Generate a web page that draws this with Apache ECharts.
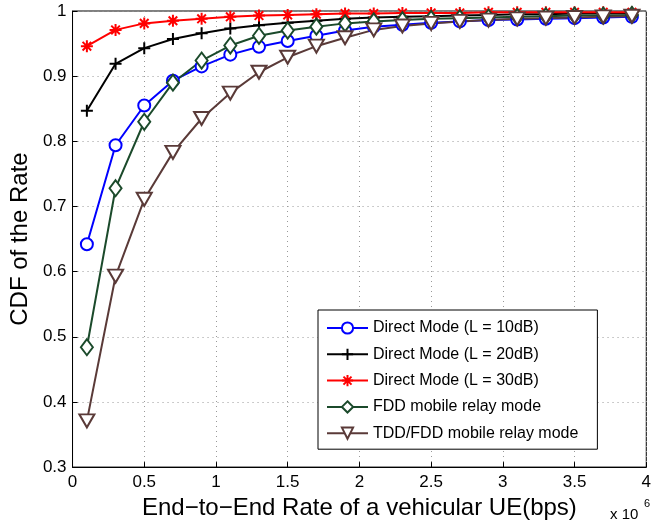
<!DOCTYPE html>
<html>
<head>
<meta charset="utf-8">
<script src="https://cdn.jsdelivr.net/npm/echarts@6/dist/echarts.min.js"></script>
<style>html,body{margin:0;padding:0;background:#fff;}#c{width:654px;height:525px;}</style>
</head>
<body>
<div id="c"></div>
<script>
const rates = [0.1e6,0.3e6,0.5e6,0.7e6,0.9e6,1.1e6,1.3e6,1.5e6,1.7e6,1.9e6,2.1e6,2.3e6,2.5e6,2.7e6,2.9e6,3.1e6,3.3e6,3.5e6,3.7e6,3.9e6];
const direct10 = [0.642,0.794,0.855,0.893,0.915,0.933,0.945,0.954,0.962,0.970,0.976,0.979,0.982,0.984,0.986,0.987,0.988,0.989,0.990,0.991];
const direct20 = [0.847,0.919,0.943,0.957,0.966,0.973,0.978,0.982,0.985,0.988,0.990,0.991,0.992,0.993,0.994,0.995,0.995,0.996,0.996,0.997];
const direct30 = [0.946,0.971,0.981,0.985,0.988,0.991,0.993,0.994,0.995,0.996,0.996,0.997,0.997,0.997,0.998,0.998,0.998,0.998,0.998,0.998];
const fddRelay = [0.484,0.728,0.830,0.890,0.924,0.947,0.962,0.970,0.976,0.981,0.984,0.986,0.988,0.989,0.990,0.991,0.992,0.993,0.993,0.994];
const tddFddRelay = [0.371,0.593,0.711,0.783,0.835,0.874,0.906,0.929,0.946,0.959,0.971,0.977,0.981,0.984,0.986,0.988,0.989,0.990,0.991,0.992];
const names = ['Direct Mode (L = 10dB)','Direct Mode (L = 20dB)','Direct Mode (L = 30dB)','FDD mobile relay mode','TDD/FDD mobile relay mode'];
const xTicks = [0,0.5,1,1.5,2,2.5,3,3.5,4];

const FONT = 'Liberation Sans, Arial, Helvetica, sans-serif';
const pair = arr => arr.map((v,i)=>[rates[i], v]);
const plusPath = 'path://M0,-6L0,6M-6,0L6,0';
const starPath = 'path://M0,-6L0,6M-6,0L6,0M-4.3,-4.3L4.3,4.3M-4.3,4.3L4.3,-4.3';

function mk(name, data, color, symbol, size, rotate) {
  return {
    name: name, type: 'line', data: pair(data),
    symbol: symbol, symbolSize: size, symbolRotate: rotate || 0,
    showAllSymbol: true,
    lineStyle: {color: color, width: 2},
    itemStyle: {color: color, borderColor: color, borderWidth: 2},
    emphasis: {disabled: true},
    animation: false, z: 2
  };
}

const chart = echarts.init(document.getElementById('c'), null, {renderer: 'canvas'});
chart.setOption({
  animation: false,
  backgroundColor: '#fff',
  grid: {left: 72, right: 4, top: 11, bottom: 56, show: true, borderColor: '#000', borderWidth: 1},
  legend: {
    orient: 'vertical', left: 318, top: 310, itemGap: 10.3, itemWidth: 41, itemHeight: 14,
    padding: [10, 19, 8, 8],
    borderColor: '#000', borderWidth: 1, backgroundColor: '#fff',
    textStyle: {fontFamily: FONT, fontSize: 16, color: '#000', lineHeight: 16},
    data: names
  },
  xAxis: {
    type: 'value', min: 0, max: 4e6, interval: 5e5,
    axisLine: {lineStyle: {color: '#000'}},
    axisTick: {inside: true, length: 5, lineStyle: {color: '#000'}},
    axisLabel: {fontFamily: FONT, fontSize: 17, color: '#000', margin: 7,
      formatter: v => { const t = Math.round(v/1e5)/10; return xTicks.indexOf(t) >= 0 ? String(t) : ''; }},
    splitLine: {show: true, lineStyle: {color: '#999', type: [1,4], width: 1}},
    name: 'End\u2212to\u2212End Rate of a vehicular UE(bps)', nameLocation: 'middle', nameGap: 26,
    nameTextStyle: {fontFamily: FONT, fontSize: 24, color: '#000'}
  },
  yAxis: {
    type: 'value', min: 0.3, max: 1, interval: 0.1,
    axisLine: {show: true, lineStyle: {color: '#000'}},
    axisTick: {show: true, inside: true, length: 5, lineStyle: {color: '#000'}},
    axisLabel: {fontFamily: FONT, fontSize: 17, color: '#000', margin: 6,
      formatter: v => String(Math.round(v*10)/10)},
    splitLine: {show: true, lineStyle: {color: '#999', type: [1,4], width: 1}},
    name: 'CDF of the Rate', nameLocation: 'middle', nameGap: 36,
    nameTextStyle: {fontFamily: FONT, fontSize: 24, color: '#000'}
  },
  graphic: [
    {type: 'text', left: 610, top: 507, style: {text: 'x 10', font: '15px ' + FONT, fill: '#000'}},
    {type: 'text', left: 644, top: 498, style: {text: '6', font: '11px ' + FONT, fill: '#000'}}
  ],
  series: [
    mk(names[0], direct10, '#0000ff', 'emptyCircle', 12),
    mk(names[1], direct20, '#000000', plusPath, 12),
    mk(names[2], direct30, '#ff0000', starPath, 12),
    mk(names[3], fddRelay, '#1b4a2b', 'emptyDiamond', [12,16]),
    mk(names[4], tddFddRelay, '#5a3a38', 'emptyTriangle', [15,13], 180)
  ]
});
</script>
</body>
</html>
